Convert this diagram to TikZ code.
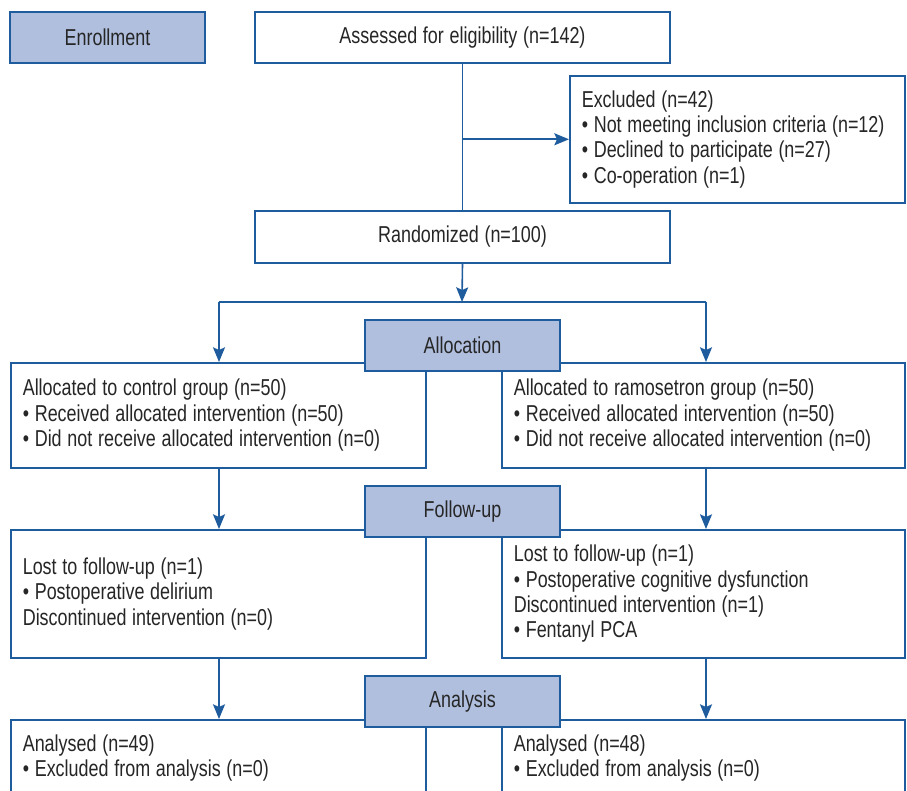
\documentclass[tikz,border=0pt]{standalone}
\usepackage{fontspec}
\setmainfont{Liberation Sans}[FakeStretch=0.78]
\usetikzlibrary{arrows.meta}

\definecolor{Frame}{HTML}{1F5C9E}
\definecolor{Stage}{HTML}{B0BFDE}

\newcommand{\flowfont}{\fontsize{17.25pt}{19.1pt}\selectfont}
\newcommand{\flowspace}{\spaceskip 4.3pt\xspaceskip 4.3pt\relax}

\tikzset{
  every node/.style={font=\flowfont, text=black!85, execute at begin node=\flowspace},
  stage/.style={draw=Frame, fill=Stage, line width=1.2pt, minimum width=146.25pt, minimum height=38.25pt, inner sep=0pt},
  box/.style={draw=Frame, fill=white, line width=1.2pt, anchor=north west, align=left, inner xsep=9pt, inner ysep=0pt},
  link/.style={draw=Frame, line width=1.2pt},
  flow/.style={link, -{Stealth[length=11pt, width=9pt, inset=2pt]}}
}

\begin{document}
\begin{tikzpicture}[x=0.75pt, y=-0.75pt]

 \useasboundingbox (0,0) rectangle (907,791);
 \clip (0,0) rectangle (907,791);

 %%%%%%%%%% Enrollment %%%%%%%%%%
 \node[stage] (enrol) at (107.5,37.5) {Enrollment};
 \node[box, anchor=center, align=center, text width=293.25pt, minimum height=38.25pt] (assess) at (462.5,37.5) {Assessed for eligibility (n=142)};
 \node[box, text width=233.25pt, minimum height=95.25pt] (excl) at (569,75)
   {Excluded (n=42)\\
    • Not meeting inclusion criteria (n=12)\\
    • Declined to participate (n=27)\\
    • Co-operation (n=1)};
 \node[box, anchor=center, align=center, text width=293.25pt, minimum height=39pt] (random) at (462.5,237) {Randomized (n=100)};

 %%%%%%%%%% Allocation %%%%%%%%%%
 \node[box, text width=293.25pt, minimum height=78.75pt] (allocL) at (10,362)
   {Allocated to control group (n=50)\\
    • Received allocated intervention (n=50)\\
    • Did not receive allocated intervention (n=0)};
 \node[box, text width=284.25pt, minimum height=78.75pt] (allocR) at (501,362)
   {Allocated to ramosetron group (n=50)\\
    • Received allocated intervention (n=50)\\
    • Did not receive allocated intervention (n=0)};
 \node[stage] (alloc) at (462.5,345.5) {Allocation};

 %%%%%%%%%% Follow-up %%%%%%%%%%
 \node[box, text width=293.25pt, minimum height=96pt] (followL) at (10,529)
   {Lost to follow-up (n=1)\\
    • Postoperative delirium\\
    Discontinued intervention (n=0)};
 \node[box, text width=284.25pt, minimum height=96pt] (followR) at (501,529)
   {Lost to follow-up (n=1)\\
    • Postoperative cognitive dysfunction\\
    Discontinued intervention (n=1)\\
    • Fentanyl PCA};
 \node[stage] (follow) at (462.5,511.5) {Follow-up};

 %%%%%%%%%% Analysis %%%%%%%%%%
 \node[box, text width=293.25pt, minimum height=57pt] (analysL) at (10,719)
   {Analysed (n=49)\\
    • Excluded from analysis (n=0)};
 \node[box, text width=284.25pt, minimum height=57pt] (analysR) at (501,719)
   {Analysed (n=48)\\
    • Excluded from analysis (n=0)};
 \node[stage] (analys) at (462.5,701.5) {Analysis};

 %%%%%%%%%% Connectors %%%%%%%%%%
 \coordinate (split) at (462,302);
 \coordinate (L) at (219,302);
 \coordinate (R) at (706,302);

 \draw[link] (assess.south) -- (random.north);
 \draw[flow] (assess.south |- excl.west) -- (excl.west);
 \draw[flow] (random.south) -- (split);
 \draw[link] (L) -- (R);
 \draw[flow] (L) -- (L |- allocL.north);
 \draw[flow] (R) -- (R |- allocR.north);

 \draw[flow] (L |- allocL.south) -- (L |- followL.north);
 \draw[flow] (R |- allocR.south) -- (R |- followR.north);
 \draw[flow] (L |- followL.south) -- (L |- analysL.north);
 \draw[flow] (R |- followR.south) -- (R |- analysR.north);

\end{tikzpicture}
\end{document}
